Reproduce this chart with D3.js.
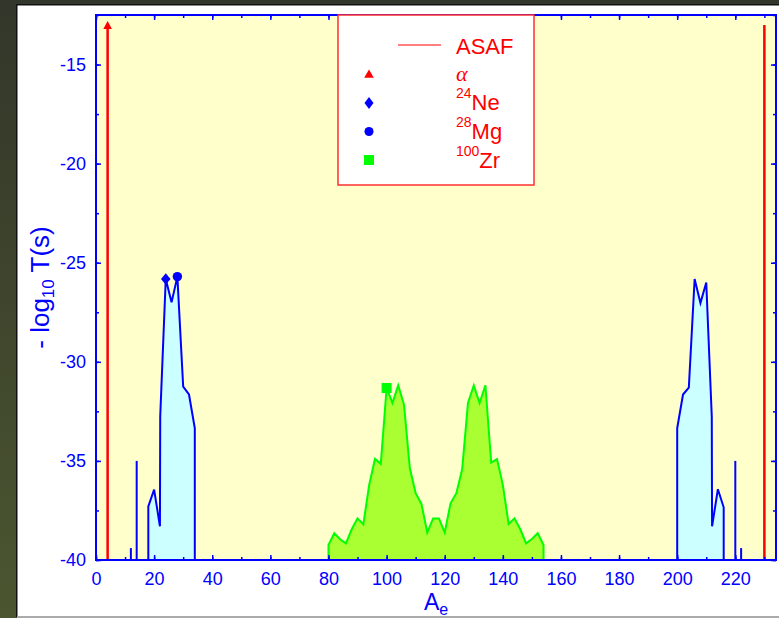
<!DOCTYPE html>
<html>
<head>
<meta charset="utf-8">
<script src="https://cdn.jsdelivr.net/npm/d3@7"></script>
<style>
html,body{margin:0;padding:0;background:#3a3d2b;}
svg{display:block;}
</style>
</head>
<body>
<script>
// ---------- data ----------
const xTickLabels = [0, 20, 40, 60, 80, 100, 120, 140, 160, 180, 200, 220];
const yTickLabels = [-40, -35, -30, -25, -20, -15];

// alpha decay (off-scale, arrows)
const alphaA = [4, 230];
const alphaT = [-12.8, -13.0];

// isolated cluster spikes
const spikeA = [12, 14, 220, 222];
const spikeT = [-39.4, -35.0, -35.0, -39.4];

// light-cluster region (left)
const blueLeftA = [18, 20, 22, 22.1, 24, 26, 28, 30, 32, 34];
const blueLeftT = [-37.3, -36.45, -38.3, -32.76, -25.82, -27.0, -25.7, -31.25, -31.65, -33.35];

// heavy complementary region (right)
const blueRightA = [200, 202, 204, 206, 208, 210, 211.9, 212, 214, 216];
const blueRightT = [-33.35, -31.65, -31.3, -25.82, -27.03, -26.0, -32.76, -38.3, -36.43, -37.34];

// fission region (green)
const greenA = [80, 82, 84, 86, 88, 90, 92, 94, 96, 98, 100, 102, 104, 106, 108, 110, 112, 114, 116, 118,
                120, 122, 124, 126, 128, 130, 132, 134, 136, 138, 140, 142, 144, 146, 148, 150, 152, 154];
const greenT = [-39.24, -38.65, -38.95, -39.16, -38.45, -37.9, -38.2, -36.21, -34.9, -35.15, -31.32, -32.08,
                -31.19, -32.17, -35.37, -36.63, -37.17, -38.62, -37.9, -37.9, -38.62, -37.14, -36.63, -35.42,
                -32.08, -31.19, -32.08, -31.19, -35.08, -34.91, -36.21, -38.18, -37.9, -38.45, -39.16, -38.94,
                -38.65, -39.24];

// highlighted emitters
const markerNames = ["24Ne", "28Mg", "100Zr"];
const markerA = [24, 28, 100];
const markerT = [-25.82, -25.7, -31.32];

// legend
const legendLabels = ["ASAF", "α", "Ne", "Mg", "Zr"];
const legendSup = ["", "", "24", "28", "100"];

// ---------- layout ----------
const W = 779, H = 618;
const m = {left: 96, right: 3, top: 15, bottom: 58};
const BLUE = "#0000ff", RED = "#ff0000", GREEN = "#00ff00";
const FONT = "'Liberation Sans', Arial, Helvetica, sans-serif";

const svg = d3.select("body").append("svg").attr("width", W).attr("height", H);
const defs = svg.append("defs");
const bg = defs.append("linearGradient").attr("id", "bg").attr("x1", 0).attr("y1", 0).attr("x2", 0).attr("y2", 1);
bg.append("stop").attr("offset", "0%").attr("stop-color", "#33362a");
bg.append("stop").attr("offset", "100%").attr("stop-color", "#4b5630");
svg.append("rect").attr("width", W).attr("height", H).attr("fill", "url(#bg)");

// white panel
svg.append("rect").attr("x", 16).attr("y", 4).attr("width", W - 16).attr("height", 613).attr("fill", "#111");
svg.append("rect").attr("x", 17.5).attr("y", 5.5).attr("width", W - 17).attr("height", 611).attr("fill", "#fff");
svg.append("rect").attr("x", 17).attr("y", 616).attr("width", W - 17).attr("height", 2).attr("fill", "#aaa");

const x = d3.scaleLinear().domain([0, 234]).range([m.left, W - m.right]);
const y = d3.scaleLinear().domain([-40, -12.5]).range([H - m.bottom, m.top]);
const [x0, x1] = x.range(), [yb, yt] = y.range();

const clip = defs.append("clipPath").attr("id", "plot");
clip.append("rect").attr("x", x0).attr("y", yt).attr("width", x1 - x0).attr("height", yb - yt);

svg.append("rect").attr("x", x0).attr("y", yt).attr("width", x1 - x0).attr("height", yb - yt).attr("fill", "#ffffcc");

const g = svg.append("g").attr("clip-path", "url(#plot)");
const base = y.domain()[0];

function region(A, T, fill, stroke) {
  const pts = A.map((a, i) => [a, T[i]]);
  const outline = [[A[0], base], ...pts, [A[A.length - 1], base]];
  g.append("path")
    .attr("d", d3.area().x(d => x(d[0])).y0(y(base)).y1(d => y(d[1]))(pts))
    .attr("fill", fill);
  g.append("path")
    .attr("d", d3.line().x(d => x(d[0])).y(d => y(d[1]))(outline))
    .attr("fill", "none").attr("stroke", stroke).attr("stroke-width", 2).attr("stroke-linejoin", "miter");
}
region(blueLeftA, blueLeftT, "#ccffff", BLUE);
region(blueRightA, blueRightT, "#ccffff", BLUE);
region(greenA, greenT, "#aaff33", GREEN);

// spikes
g.selectAll("line.spike").data(spikeA).enter().append("line")
  .attr("x1", d => x(d)).attr("x2", d => x(d))
  .attr("y1", y(base)).attr("y2", (d, i) => y(spikeT[i]))
  .attr("stroke", BLUE).attr("stroke-width", 2);

// alpha lines
g.selectAll("line.alpha").data(alphaA).enter().append("line")
  .attr("x1", d => x(d)).attr("x2", d => x(d))
  .attr("y1", y(base)).attr("y2", (d, i) => i === 0 ? y(alphaT[i]) + 7 : y(alphaT[i]))
  .attr("stroke", RED).attr("stroke-width", 2.5);
// arrow head on the first
{
  const ax = x(alphaA[0]), ay = y(alphaT[0]);
  g.append("path").attr("d", `M${ax},${ay} L${ax - 4.3},${ay + 8} L${ax + 4.3},${ay + 8} Z`).attr("fill", RED);
}

// marker shapes
const diamond = (w, h) => `M0,${-h / 2}L${w / 2},0L0,${h / 2}L${-w / 2},0Z`;
const shapeFns = [
  () => diamond(9.5, 11.5),
  () => d3.symbol().type(d3.symbolCircle).size(70)(),
  () => d3.symbol().type(d3.symbolSquare).size(100)()
];
const symCol = [BLUE, BLUE, GREEN];
svg.selectAll("path.mk").data(markerA).enter().append("path")
  .attr("transform", (d, i) => `translate(${x(d)},${y(markerT[i])})`)
  .attr("d", (d, i) => shapeFns[i]())
  .attr("fill", (d, i) => symCol[i]);

// ---------- axes ----------
const minorX = d3.range(0, 235, 10);
const minorY = d3.range(-40, -12.4, 2.5);
const fmt = d => String(d);
function styleAxis(sel) {
  sel.select(".domain").remove();
  sel.selectAll("line").attr("stroke", BLUE).attr("stroke-width", 1.5);
  sel.selectAll("text").attr("fill", BLUE).attr("font-family", FONT).attr("font-size", 18);
}
// bottom
svg.append("g").attr("transform", `translate(0,${yb})`)
  .call(d3.axisBottom(x).tickValues(minorX).tickSize(-3).tickFormat(""))
  .call(styleAxis);
svg.append("g").attr("transform", `translate(0,${yb})`)
  .call(d3.axisBottom(x).tickValues(xTickLabels).tickSize(-5).tickPadding(12).tickFormat(fmt))
  .call(styleAxis);
// top
svg.append("g").attr("transform", `translate(0,${yt})`)
  .call(d3.axisTop(x).tickValues(minorX).tickSize(-3).tickFormat(""))
  .call(styleAxis);
svg.append("g").attr("transform", `translate(0,${yt})`)
  .call(d3.axisTop(x).tickValues(xTickLabels).tickSize(-5).tickFormat(""))
  .call(styleAxis);
// left
svg.append("g").attr("transform", `translate(${x0},0)`)
  .call(d3.axisLeft(y).tickValues(minorY).tickSize(-3).tickFormat(""))
  .call(styleAxis);
svg.append("g").attr("transform", `translate(${x0},0)`)
  .call(d3.axisLeft(y).tickValues(yTickLabels).tickSize(-5).tickPadding(10).tickFormat(fmt))
  .call(styleAxis);
// right
svg.append("g").attr("transform", `translate(${x1},0)`)
  .call(d3.axisRight(y).tickValues(minorY).tickSize(-3).tickFormat(""))
  .call(styleAxis);
svg.append("g").attr("transform", `translate(${x1},0)`)
  .call(d3.axisRight(y).tickValues(yTickLabels).tickSize(-5).tickFormat(""))
  .call(styleAxis);
// frame
svg.append("rect").attr("x", x0).attr("y", yt).attr("width", x1 - x0).attr("height", yb - yt)
  .attr("fill", "none").attr("stroke", BLUE).attr("stroke-width", 2);

// axis titles
const xt = svg.append("text").attr("x", (x0 + x1) / 2).attr("y", 610).attr("text-anchor", "middle")
  .attr("fill", BLUE).attr("font-family", FONT).attr("font-size", 23);
xt.append("tspan").text("A");
xt.append("tspan").attr("font-size", 16).attr("dy", 5).text("e");

const yl = svg.append("text").attr("transform", `translate(49,${(yt + yb) / 2}) rotate(-90)`)
  .attr("text-anchor", "middle").attr("fill", BLUE).attr("font-family", FONT).attr("font-size", 26);
yl.append("tspan").text("- log");
yl.append("tspan").attr("font-size", 17).attr("dy", 5).text("10");
yl.append("tspan").attr("dy", -5).text(" T(s)");

// ---------- legend ----------
const lg = svg.append("g");
lg.append("rect").attr("x", 338).attr("y", 15).attr("width", 196).attr("height", 170)
  .attr("fill", "#fff").attr("stroke", "#ff3030").attr("stroke-width", 1.5);
lg.append("line").attr("x1", 398).attr("x2", 441).attr("y1", 45).attr("y2", 45).attr("stroke", RED).attr("stroke-width", 1);
lg.append("path").attr("transform", "translate(369,75)").attr("d", d3.symbol().type(d3.symbolTriangle).size(40)()).attr("fill", RED);
lg.append("path").attr("transform", "translate(369,103)").attr("d", diamond(9, 12)).attr("fill", BLUE);
lg.append("path").attr("transform", "translate(369,131.5)").attr("d", d3.symbol().type(d3.symbolCircle).size(65)()).attr("fill", BLUE);
lg.append("path").attr("transform", "translate(369,160)").attr("d", d3.symbol().type(d3.symbolSquare).size(100)()).attr("fill", GREEN);

const rowY = [54, 81, 110, 139, 168];
legendLabels.forEach((lab, i) => {
  const t = lg.append("text").attr("x", 456).attr("y", rowY[i]).attr("fill", RED)
    .attr("font-family", i === 1 ? "'Liberation Serif', 'Times New Roman', serif" : FONT)
    .attr("font-size", 22).attr("font-style", i === 1 ? "italic" : "normal");
  if (legendSup[i]) {
    t.append("tspan").attr("font-size", 14).attr("dy", -12).text(legendSup[i]);
    t.append("tspan").attr("dy", 12).text(lab);
  } else {
    t.text(lab);
  }
});
</script>
</body>
</html>
